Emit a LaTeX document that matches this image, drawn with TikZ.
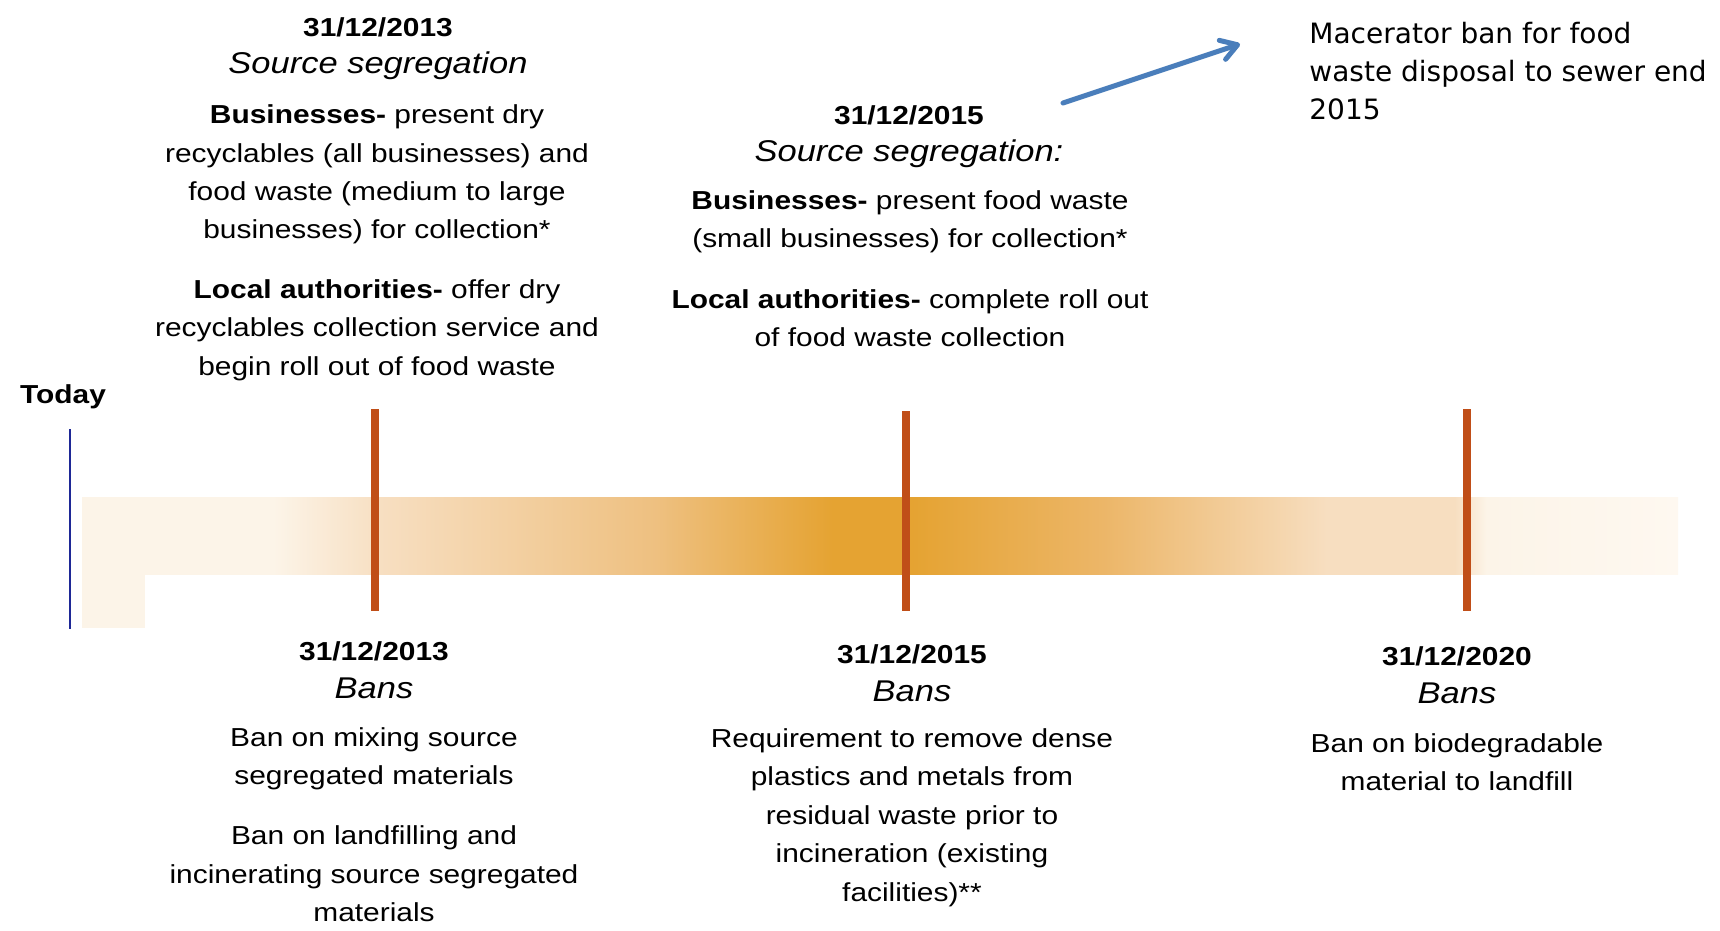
\documentclass[tikz,border=0pt]{standalone}
\usepackage{fontspec}
\setmainfont{Liberation Sans}[FakeStretch=1.15]
\newfontfamily\notefont{DejaVu Sans}
\usetikzlibrary{arrows.meta}
\usepackage{xcolor}

\definecolor{barpale}{RGB}{252,244,232}
\definecolor{barlight}{RGB}{247,222,192}
\definecolor{barmid}{RGB}{238,192,128}
\definecolor{bardark}{RGB}{229,163,50}
\definecolor{barright}{RGB}{236,182,104}
\definecolor{barend}{RGB}{254,248,240}
\definecolor{markred}{RGB}{192,78,24}
\definecolor{todayblue}{RGB}{30,40,150}
\definecolor{arrowblue}{RGB}{74,126,187}

% visible part of the shading runs from 25bp to 75bp
\pgfdeclarehorizontalshading{barshade}{100bp}{color(0bp)=(barpale); color(31bp)=(barpale); color(34.5bp)=(barlight); color(43bp)=(barmid); color(48.5bp)=(bardark); color(51bp)=(bardark); color(57bp)=(barright); color(64bp)=(barlight); color(68bp)=(barlight); color(69bp)=(barpale); color(75bp)=(barend); color(100bp)=(barend)}

\begin{document}
\begin{tikzpicture}[
    x=0.5pt, y=-0.5pt,
    txt/.style={align=center, inner sep=0pt, font=\fontsize{13}{19.2}\selectfont},
    date/.style={txt, font=\fontsize{13}{16}\selectfont\bfseries},
    head/.style={txt, font=\fontsize{15}{18}\selectfont\itshape},
    marker/.style={draw=markred, line width=4pt},
    note/.style={align=left, inner sep=0pt, font=\notefont\fontsize{14}{19}\selectfont},
    arr/.style={-{Straight Barb[length=8pt, width=10pt, round]}, line width=2.5pt, line cap=round, arrowblue}
]
\useasboundingbox[fill=white] (0,0) rectangle (1720,931);

% timeline bar
\shade[shading=barshade] (82,497) rectangle (1678,574);
\fill[barpale] (82,575) rectangle (145,628);
\draw[todayblue, line width=1.2pt] (70,429) -- (70,629);
\draw[marker] (375,409) -- (375,611);
\draw[marker] (906,411) -- (906,611);
\draw[marker] (1467,409) -- (1467,611);

\node[date] (today) at (63,397) {Today};

% source segregation, 2013
\node[date] (d13top) at (378,27) {31/12/2013};
\node[head] (s13top) at (378,66) {Source segregation};
\node[txt] (bus13) at (377,174.5) {\textbf{Businesses-} present dry\\recyclables (all businesses) and\\food waste (medium to large\\businesses) for collection*};
\node[txt] (la13) at (377,330) {\textbf{Local authorities-} offer dry\\recyclables collection service and\\begin roll out of food waste};

% source segregation, 2015
\node[date] (d15top) at (909,115) {31/12/2015};
\node[head] (s15top) at (909,154) {Source segregation:};
\node[txt] (bus15) at (910,221.5) {\textbf{Businesses-} present food waste\\(small businesses) for collection*};
\node[txt] (la15) at (910,318.5) {\textbf{Local authorities-} complete roll out\\of food waste collection};

% bans
\node[date] (d13bot) at (374,651) {31/12/2013};
\node[head] (b13) at (374,688) {Bans};
\node[txt] (mix13) at (374,758.5) {Ban on mixing source\\segregated materials};
\node[txt] (land13) at (374,874) {Ban on landfilling and\\incinerating source segregated\\materials};

\node[date] (d15bot) at (912,654) {31/12/2015};
\node[head] (b15) at (912,691) {Bans};
\node[txt] (req15) at (912,817.5) {Requirement to remove dense\\plastics and metals from\\residual waste prior to\\incineration (existing\\facilities)**};

\node[date] (d20bot) at (1457,656) {31/12/2020};
\node[head] (b20) at (1457,693) {Bans};
\node[txt] (bio20) at (1457,762) {Ban on biodegradable\\material to landfill};

% macerator note
\node[note, anchor=west] (macer) at (1309,71.5) {Macerator ban for food\\waste disposal to sewer end\\2015};
\coordinate (arrtail) at (1063,103);
\coordinate (arrtip) at (1240,44);
\draw[arr] (arrtail) -- (arrtip);
\end{tikzpicture}
\end{document}
